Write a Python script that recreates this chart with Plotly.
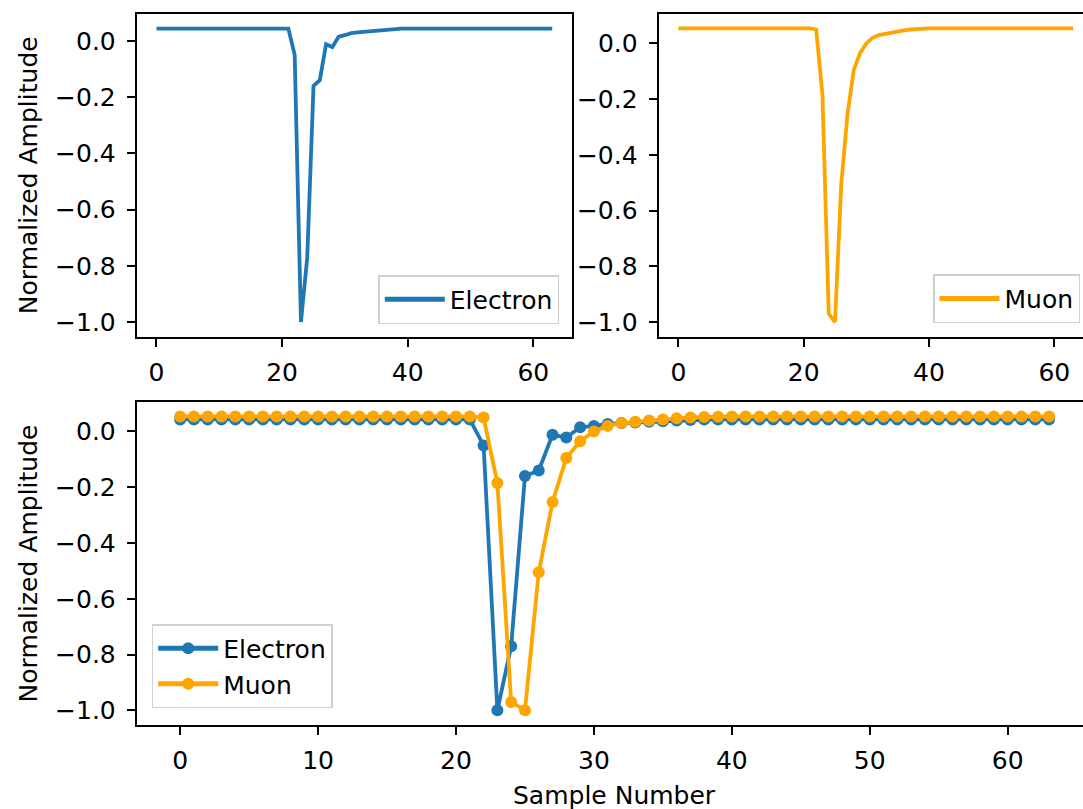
import plotly.graph_objects as go

samples = list(range(64))

electron = [
    0.043, 0.043, 0.043, 0.043, 0.043, 0.043, 0.043, 0.043, 0.043, 0.043, 0.043,
    0.043, 0.043, 0.043, 0.043, 0.043, 0.043, 0.043, 0.043, 0.043, 0.043, 0.043,
    -0.05, -1.0, -0.77, -0.16, -0.14, -0.012, -0.022, 0.015, 0.02, 0.027,
    0.03, 0.032, 0.035, 0.037, 0.039, 0.041,
    0.043, 0.043, 0.043, 0.043, 0.043, 0.043, 0.043, 0.043, 0.043, 0.043, 0.043,
    0.043, 0.043, 0.043, 0.043, 0.043, 0.043, 0.043, 0.043, 0.043, 0.043, 0.043,
    0.043, 0.043, 0.043, 0.043,
]

muon = [
    0.054, 0.054, 0.054, 0.054, 0.054, 0.054, 0.054, 0.054, 0.054, 0.054, 0.054,
    0.054, 0.054, 0.054, 0.054, 0.054, 0.054, 0.054, 0.054, 0.054, 0.054, 0.054,
    0.05, -0.185, -0.97, -1.0, -0.505, -0.253, -0.095, -0.035, 0.0, 0.02,
    0.03, 0.035, 0.039, 0.043, 0.047, 0.05, 0.052, 0.053,
    0.054, 0.054, 0.054, 0.054, 0.054, 0.054, 0.054, 0.054, 0.054, 0.054, 0.054,
    0.054, 0.054, 0.054, 0.054, 0.054, 0.054, 0.054, 0.054, 0.054, 0.054, 0.054,
    0.054, 0.054,
]

y_ticks = [0.0, -0.2, -0.4, -0.6, -0.8, -1.0]
x_ticks_top = [0, 20, 40, 60]
x_ticks_bottom = [0, 10, 20, 30, 40, 50, 60]

BLUE = "#1f77b4"
ORANGE = "#ffa500"
FONT = "DejaVu Sans"
FS = 25

W, H = 1083, 809

def px(x):
    return x / W

def py(y):
    return 1 - y / H

fig = go.Figure()

fig.add_trace(go.Scatter(x=samples, y=electron, mode="lines", name="Electron",
                         line=dict(color=BLUE, width=3.8), xaxis="x", yaxis="y",
                         legend="legend"))
fig.add_trace(go.Scatter(x=samples, y=muon, mode="lines", name="Muon",
                         line=dict(color=ORANGE, width=3.8), xaxis="x2", yaxis="y2",
                         legend="legend2"))
fig.add_trace(go.Scatter(x=samples, y=electron, mode="lines+markers", name="Electron",
                         line=dict(color=BLUE, width=3.8), marker=dict(size=12, color=BLUE),
                         xaxis="x3", yaxis="y3", legend="legend3"))
fig.add_trace(go.Scatter(x=samples, y=muon, mode="lines+markers", name="Muon",
                         line=dict(color=ORANGE, width=3.8), marker=dict(size=12, color=ORANGE),
                         xaxis="x3", yaxis="y3", legend="legend3"))

axis_common = dict(
    showgrid=False, zeroline=False, showline=True, linecolor="black", linewidth=1.9,
    ticks="outside", ticklen=8, tickwidth=1.9, tickcolor="black",
    tickfont=dict(family=FONT, size=FS, color="black"),
)

y_common = dict(axis_common, tickvals=y_ticks, tickformat=".1f", ticklabelstandoff=6)

top_y = [py(336.7), py(13.7)]
bot_y = [py(725), py(401.7)]

legend_common = dict(
    font=dict(family=FONT, size=FS, color="black"),
    bgcolor="white", bordercolor="#d0d0d0", borderwidth=1.5,
    itemsizing="constant", itemwidth=60, tracegroupgap=4,
)

fig.update_layout(
    width=W, height=H, margin=dict(l=0, r=0, t=0, b=0),
    plot_bgcolor="white", paper_bgcolor="white",
    font=dict(family=FONT, size=FS, color="black"),
    xaxis=dict(axis_common, domain=[px(136.7), px(572)], range=[-3.15, 66.15],
               tickvals=x_ticks_top, mirror=True, anchor="y", ticklabelstandoff=4),
    yaxis=dict(y_common, domain=top_y, range=[-1.052, 0.0964], mirror=True, anchor="x"),
    xaxis2=dict(axis_common, domain=[px(658.6), 1.0], range=[-3.15, 64.58],
                tickvals=x_ticks_top, mirror=True, anchor="y2", ticklabelstandoff=4),
    yaxis2=dict(y_common, domain=top_y, range=[-1.0527, 0.1067], mirror=False, anchor="x2"),
    xaxis3=dict(axis_common, domain=[px(136.7), 1.0], range=[-3.15, 65.46],
                tickvals=x_ticks_bottom, mirror=True, anchor="y3", ticklabelstandoff=4),
    yaxis3=dict(y_common, domain=bot_y, range=[-1.0527, 0.1067], mirror=False, anchor="x3"),
    legend=dict(legend_common, x=px(559.3), y=py(324), xanchor="right", yanchor="bottom"),
    legend2=dict(legend_common, x=px(1080), y=py(323.3), xanchor="right", yanchor="bottom"),
    legend3=dict(legend_common, x=px(151.7), y=py(624), xanchor="left", yanchor="top"),
    showlegend=True,
)

ann_font = dict(family=FONT, size=FS, color="black")
fig.add_annotation(text="Normalized Amplitude", x=px(28), y=py(175.2), xref="paper", yref="paper",
                   xanchor="center", yanchor="middle",
                   showarrow=False, textangle=-90, font=ann_font)
fig.add_annotation(text="Normalized Amplitude", x=px(28), y=py(563.4), xref="paper", yref="paper",
                   xanchor="center", yanchor="middle",
                   showarrow=False, textangle=-90, font=ann_font)
fig.add_annotation(text="Sample Number", x=px(614.5), y=py(795), xref="paper", yref="paper",
                   xanchor="center", yanchor="middle",
                   showarrow=False, font=ann_font)

fig.write_html("out.html")
